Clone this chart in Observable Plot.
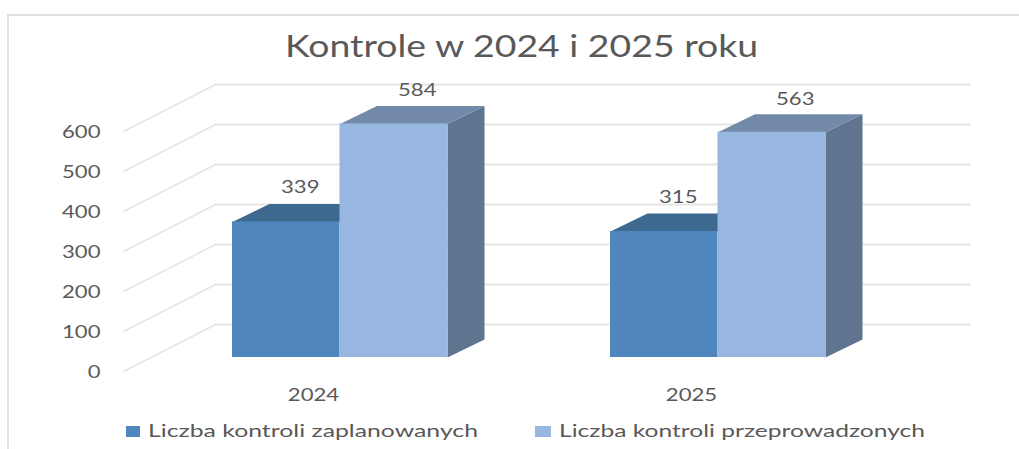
<!DOCTYPE html>
<html lang="pl">
<head>
<meta charset="utf-8">
<script src="https://cdn.jsdelivr.net/npm/d3@7"></script>
<script src="https://cdn.jsdelivr.net/npm/@observablehq/plot@0.6"></script>
<style>
  html, body { margin: 0; padding: 0; background: #fff; overflow: hidden; }
  #page { position: relative; width: 1019px; height: 449px; font-family: Lato, sans-serif; color: #595959; }
  #frame { position: absolute; left: 7px; top: 14px; right: 0; bottom: 0; border-left: 2px solid #e2e2e2; border-top: 2px solid #e2e2e2; }
  #title { position: absolute; left: 285px; top: 26px; font-size: 30px; line-height: 38px; white-space: nowrap; transform-origin: left center; margin: 0; font-weight: 400; }
  #chart { position: absolute; left: 0; top: 70px; }
  .key { position: absolute; top: 426px; width: 14px; height: 11px; }
  .keylabel { position: absolute; top: 420px; font-size: 17.5px; line-height: 22px; white-space: nowrap; transform-origin: left center; }
</style>
</head>
<body>
<div id="page">
  <div id="frame"></div>
  <h2 id="title"></h2>
  <div id="chart"></div>
  <div id="legend"></div>
</div>
<script>
const titleText = "Kontrole w 2024 i 2025 roku";
const years = ["2024", "2025"];
const seriesNames = ["Liczba kontroli zaplanowanych", "Liczba kontroli przeprowadzonych"];
const planned = [339, 315];
const conducted = [584, 563];
const yTicks = [0, 100, 200, 300, 400, 500, 600];

const frontColors = ["#4f86bd", "#98b7e0"];
const topColors = ["#3d6890", "#7289aa"];
const sideColor = "#5f748e";
const gridColor = "#e6e6e6";

// Oblique projection, expressed in scale units
const wallDx = 92 / 378, wallDy = 117.5;      // front of the floor to back wall
const barPlaneDy = 35, barShift = 27.5 / 378; // bars stand a little behind the front edge
const barW = 107.5 / 378, barDx = 37 / 378, barDy = 45;

const series = [planned, conducted];
const bars = series.flatMap((vals, s) => vals.map((v, i) => {
  const x1 = i + 0.5 + barShift + (s - 1) * barW;
  return { s, i, v, x1, x2: x1 + barW, id: `${s}-${i}` };
}));

const topPoly = b => [
  [b.x1, b.v + barPlaneDy], [b.x2, b.v + barPlaneDy],
  [b.x2 + barDx, b.v + barPlaneDy + barDy], [b.x1 + barDx, b.v + barPlaneDy + barDy]
].map(([x, y]) => ({ x, y, id: b.id }));
const sidePoly = b => [
  [b.x2, barPlaneDy], [b.x2 + barDx, barPlaneDy + barDy],
  [b.x2 + barDx, b.v + barPlaneDy + barDy], [b.x2, b.v + barPlaneDy]
].map(([x, y]) => ({ x, y, id: b.id }));

const polyMark = (pts, fill) => Plot.line(pts, { x: "x", y: "y", z: "id", fill, stroke: "none" });
const ofSeries = s => bars.filter(b => b.s === s);
const valueLabels = (s, dx, dy) => Plot.text(ofSeries(s), {
  x: b => (b.x1 + b.x2) / 2 + barDx / 2,
  y: b => b.v + barPlaneDy + barDy,
  text: b => String(b.v), dx, dy, fontSize: 17, fill: "#595959", lineAnchor: "middle"
});

const plot = Plot.plot({
  width: 1019, height: 340,
  marginLeft: 123, marginRight: 140, marginTop: 61, marginBottom: 39,
  x: { type: "linear", domain: [0, 2], label: null },
  y: { domain: [0, 600], label: null },
  style: { color: "#595959", fontFamily: "Lato, sans-serif", fontSize: "17px", background: "transparent", overflow: "visible" },
  marks: [
    Plot.ruleY(yTicks, { y: d => d + wallDy, x1: wallDx, x2: 2 + wallDx, stroke: gridColor, strokeWidth: 2 }),
    Plot.link(yTicks, { x1: 0, y1: d => d, x2: wallDx, y2: d => d + wallDy, stroke: gridColor, strokeWidth: 1.5 }),
    Plot.axisY(yTicks, { anchor: "left", tickSize: 0, tickPadding: 23, dy: 1.5, label: null, tickFormat: d => String(d), fontSize: 17 }),
    Plot.axisX(years.map((_, i) => i + 0.5), { anchor: "bottom", tickSize: 0, tickPadding: 17, dx: 1, label: null, tickFormat: d => years[d - 0.5], fontSize: 17 }),
    polyMark(ofSeries(1).flatMap(sidePoly), sideColor),
    polyMark(ofSeries(0).flatMap(topPoly), topColors[0]),
    polyMark(ofSeries(1).flatMap(topPoly), topColors[1]),
    Plot.rect(ofSeries(0), { x1: "x1", x2: "x2", y1: barPlaneDy, y2: b => b.v + barPlaneDy, fill: frontColors[0] }),
    Plot.rect(ofSeries(1), { x1: "x1", x2: "x2", y1: barPlaneDy, y2: b => b.v + barPlaneDy, fill: frontColors[1] }),
    valueLabels(0, -4.5, -16),
    valueLabels(1, 5, -15)
  ]
});
document.getElementById("chart").append(plot);

// The reference's glyphs are stretched sideways
d3.select(plot).selectAll("text").each(function () {
  const w = this.getComputedTextLength();
  this.setAttribute("textLength", (w * 1.3).toFixed(1));
  this.setAttribute("lengthAdjust", "spacingAndGlyphs");
});

const stretchTo = (el, w) => { el.style.transform = `scaleX(${w / el.getBoundingClientRect().width})`; };
const title = document.getElementById("title");
title.textContent = titleText;
stretchTo(title, 473);

const legend = document.getElementById("legend");
const keyX = [126, 535], labelX = [148, 559], labelW = [330, 366];
seriesNames.forEach((name, i) => {
  const k = document.createElement("div");
  k.className = "key"; k.style.left = keyX[i] + "px"; k.style.background = frontColors[i];
  k.style.width = (i ? 16 : 14) + "px";
  const t = document.createElement("div");
  t.className = "keylabel"; t.style.left = labelX[i] + "px"; t.textContent = name;
  legend.append(k, t);
  stretchTo(t, labelW[i]);
});
</script>
</body>
</html>
